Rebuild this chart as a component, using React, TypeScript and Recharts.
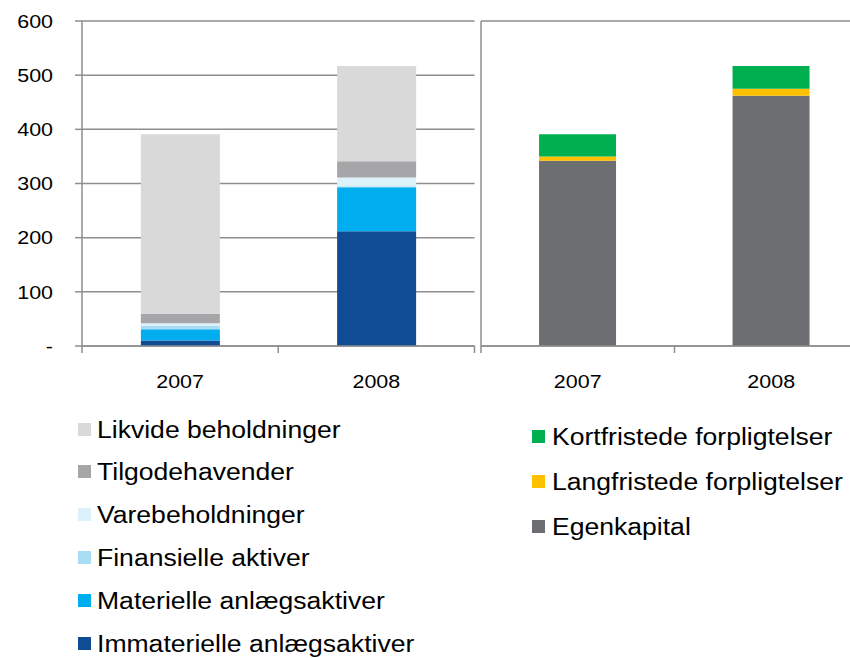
import React from 'react';
import { BarChart, Bar, XAxis, YAxis, CartesianGrid } from 'recharts';

// years on both panels
const years = ['2007', '2008'];

// assets (left panel), bottom to top
const immaterielle = [10, 212];
const materielle = [21, 81];
const finansielle = [6, 2];
const varebeholdninger = [5, 16];
const tilgodehavender = [17, 30];
const likvide = [332, 176];

// liabilities & equity (right panel), bottom to top
const egenkapital = [342, 462];
const langfristede = [8, 13];
const kortfristede = [41, 42];

const yTicks = [0, 100, 200, 300, 400, 500, 600];

const GRID = '#8E8E8E';
const FONT = '"Liberation Sans", Arial, sans-serif';
const STRETCH = 1.13; // source image is a bit wider than tall

const assetSeries = [
  { key: 'immat', name: 'Immaterielle anlægsaktiver', color: '#0F4C94', values: immaterielle },
  { key: 'mat', name: 'Materielle anlægsaktiver', color: '#00AEEF', values: materielle },
  { key: 'fin', name: 'Finansielle aktiver', color: '#A7DCF4', values: finansielle },
  { key: 'vare', name: 'Varebeholdninger', color: '#DDF1FB', values: varebeholdninger },
  { key: 'tilg', name: 'Tilgodehavender', color: '#A6A6A8', values: tilgodehavender },
  { key: 'likv', name: 'Likvide beholdninger', color: '#D9D9D9', values: likvide },
];

const liabSeries = [
  { key: 'egen', name: 'Egenkapital', color: '#6D6E71', values: egenkapital },
  { key: 'lang', name: 'Langfristede forpligtelser', color: '#FFC000', values: langfristede },
  { key: 'kort', name: 'Kortfristede forpligtelser', color: '#00B050', values: kortfristede },
];

const buildRows = (series: typeof assetSeries) =>
  years.map((year, i) => {
    const row: Record<string, string | number> = { year };
    series.forEach((s) => {
      row[s.key] = s.values[i];
    });
    return row;
  });

const assetData = buildRows(assetSeries);
const liabData = buildRows(liabSeries);

// category label with tick marks on the category boundaries (Excel style)
const CategoryTick = (props: any) => {
  const { x, y, payload, index, visibleTicksCount, half } = props;
  const h = payload && payload.offset ? payload.offset : half;
  return (
    <g>
      <line x1={x - h} x2={x - h} y1={y} y2={y + 7} stroke={GRID} strokeWidth={1.5} />
      {index === visibleTicksCount - 1 && (
        <line x1={x + h} x2={x + h} y1={y} y2={y + 7} stroke={GRID} strokeWidth={1.5} />
      )}
      <text
        transform={`translate(${x},${y + 42}) scale(${STRETCH},1)`}
        textAnchor="middle"
        fontSize={19}
        fontFamily={FONT}
        fill="#000"
      >
        {payload.value}
      </text>
    </g>
  );
};

const ValueTick = (props: any) => {
  const { x, y, payload } = props;
  return (
    <text
      transform={`translate(${x},${y}) scale(${STRETCH},1)`}
      textAnchor="end"
      dy="0.355em"
      fontSize={19}
      fontFamily={FONT}
      fill="#000"
    >
      {payload.value === 0 ? '-' : String(payload.value)}
    </text>
  );
};

const LegendList = ({ items, left, top, step, textLeft }: any) => (
  <div style={{ position: 'absolute', left, top }}>
    {items.map((s: any, i: number) => (
      <div
        key={s.key}
        style={{ position: 'absolute', left: 0, top: i * step, height: 0, whiteSpace: 'nowrap' }}
      >
        <div
          style={{ position: 'absolute', left: 0, top: -7, width: 13, height: 13, background: s.color }}
        />
        <div
          style={{
            position: 'absolute',
            left: textLeft,
            top: -14,
            fontSize: 23.5,
            lineHeight: '28px',
            fontFamily: FONT,
            color: '#000',
            transform: `scaleX(${STRETCH})`,
            transformOrigin: 'left center',
          }}
        >
          {s.name}
        </div>
      </div>
    ))}
  </div>
);

export default function App() {
  return (
    <div
      style={{
        position: 'absolute',
        left: 0,
        top: 0,
        width: 850,
        height: 658,
        overflow: 'hidden',
        background: '#fff',
        fontFamily: FONT,
      }}
    >
      <div style={{ position: 'absolute', left: 0, top: 0 }}>
        <BarChart
          width={480}
          height={400}
          data={assetData}
          margin={{ top: 21, right: 5.5, left: 0, bottom: 0 }}
          barCategoryGap="30%"
        >
          <CartesianGrid horizontal vertical={false} stroke={GRID} strokeWidth={1.5} />
          <XAxis
            dataKey="year"
            height={54}
            tickSize={0}
            tickMargin={0}
            tickLine={false}
            axisLine={{ stroke: GRID, strokeWidth: 1.5 }}
            tick={<CategoryTick half={98} />}
            interval={0}
          />
          <YAxis
            width={82}
            domain={[0, 600]}
            ticks={yTicks}
            interval={0}
            tickSize={7}
            tickMargin={22}
            tickLine={{ stroke: GRID, strokeWidth: 1.5 }}
            axisLine={{ stroke: GRID, strokeWidth: 1.5 }}
            tick={<ValueTick />}
          />
          {assetSeries.map((s) => (
            <Bar key={s.key} dataKey={s.key} name={s.name} stackId="a" fill={s.color} isAnimationActive={false} />
          ))}
        </BarChart>
      </div>

      <div style={{ position: 'absolute', left: 478, top: 0 }}>
        <BarChart
          width={395}
          height={400}
          data={liabData}
          margin={{ top: 21, right: 5, left: 0, bottom: 0 }}
          barCategoryGap="30%"
        >
          <CartesianGrid horizontal vertical={false} stroke={GRID} strokeWidth={1.5} />
          <XAxis
            dataKey="year"
            height={54}
            tickSize={0}
            tickMargin={0}
            tickLine={false}
            axisLine={{ stroke: GRID, strokeWidth: 1.5 }}
            tick={<CategoryTick half={96.7} />}
            interval={0}
          />
          <YAxis
            width={3}
            domain={[0, 600]}
            ticks={yTicks}
            interval={0}
            tick={false}
            tickLine={false}
            axisLine={{ stroke: GRID, strokeWidth: 1.5 }}
          />
          {liabSeries.map((s) => (
            <Bar key={s.key} dataKey={s.key} name={s.name} stackId="b" fill={s.color} isAnimationActive={false} />
          ))}
        </BarChart>
      </div>

      <LegendList items={[...assetSeries].reverse()} left={78} top={429.5} step={42.8} textLeft={19} />
      <LegendList items={[...liabSeries].reverse()} left={532} top={437} step={45} textLeft={20} />
    </div>
  );
}
